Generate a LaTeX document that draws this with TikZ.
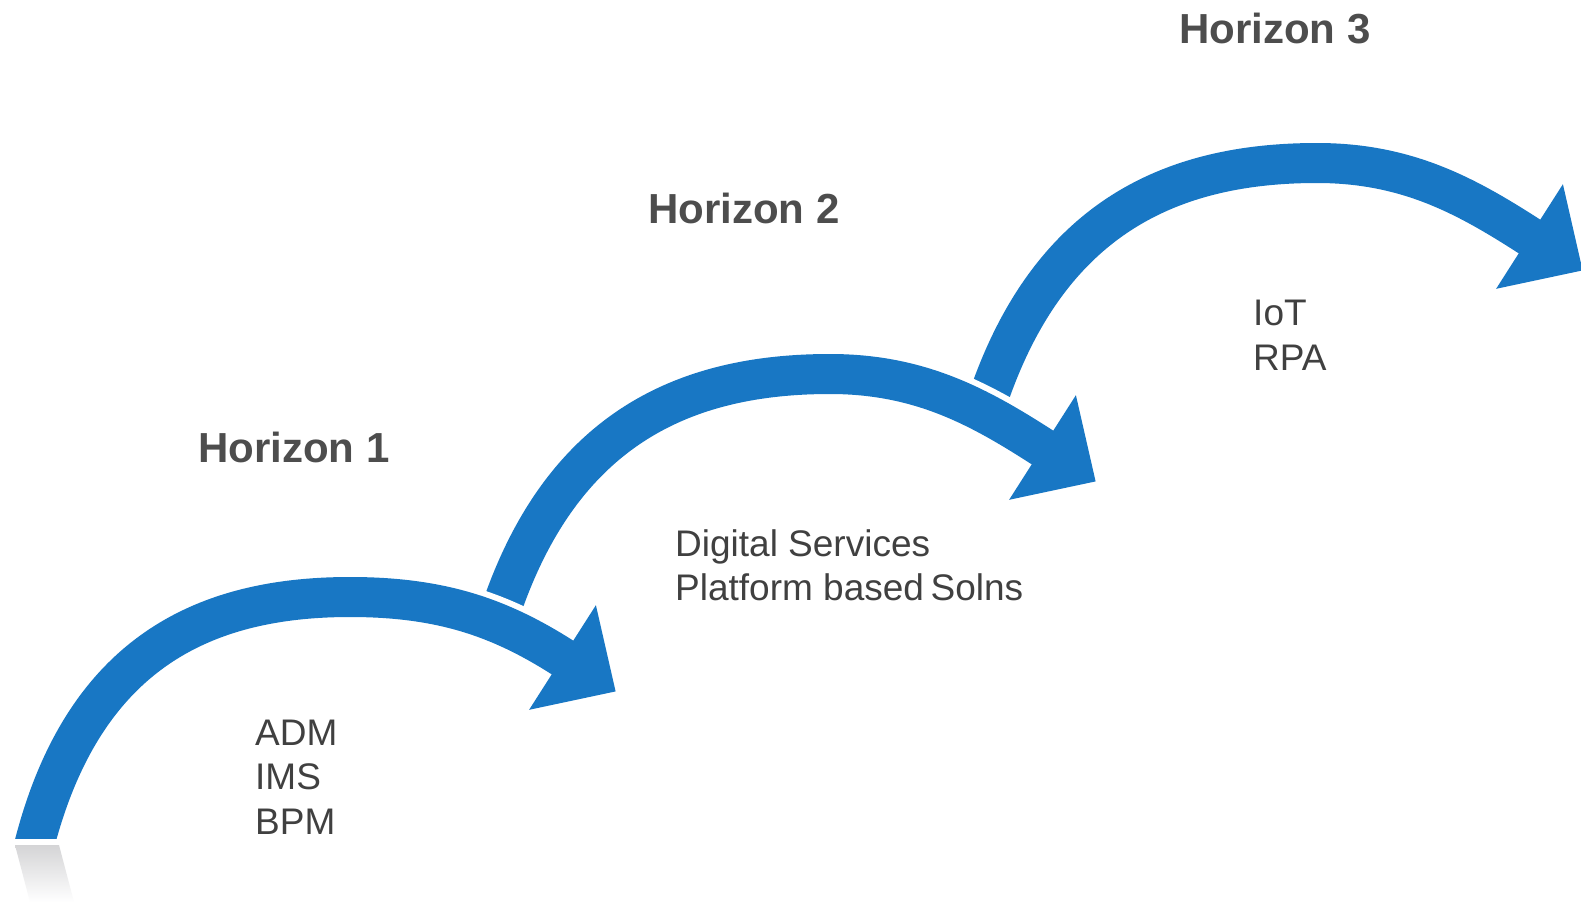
\documentclass[tikz,border=0pt]{standalone}
\usepackage{fontspec}
\setmainfont{Liberation Sans}
\definecolor{arrowblue}{RGB}{24,119,196}
\definecolor{textgray}{RGB}{64,64,64}
\definecolor{headgray}{RGB}{77,77,77}
\definecolor{reflgray}{RGB}{212,212,214}
\begin{document}
\begin{tikzpicture}[x=1pt,y=-1pt,
  band/.style={line width=40pt, draw=arrowblue, line cap=butt},
  halo/.style={line width=52pt, draw=white, line cap=butt},
  arrowhead/.style={fill=arrowblue},
  heading/.style={anchor=base west, inner sep=0pt, text=headgray,
    font=\fontsize{42}{50}\selectfont\bfseries},
  item/.style={anchor=base west, inner sep=0pt, text=textgray,
    font=\fontsize{37}{45}\selectfont},
  horizonarrow/.pic={
    % curved band with a white rim that cuts the next arrow's tail
    \draw[halo] (497,622) .. controls (557,432) and (680,374) .. (830,374)
      .. controls (920,374) and (979.5,407) .. (1042.5,447.5) -- ++(1.7,1.1);
    \draw[band] (497,622) .. controls (557,432) and (680,374) .. (830,374)
      .. controls (920,374) and (979.5,407) .. (1042.5,447.5) -- ++(1.7,1.1);
    \fill[arrowhead] (1075.9,395.2) -- (1095.6,481.4) -- (1009.1,499.8) -- cycle;
  }]
\useasboundingbox (0,0) rectangle (1581,902);
\fill[white] (0,0) rectangle (1581,902);

% third and second steps (same shape, shifted up the staircase)
\pic at (487,-211) {horizonarrow};
\pic at (0,0) {horizonarrow};

% first step, its tail cut flat on the ground line
\begin{scope}
  \clip (0,0) rectangle (1581,838);
  \draw[halo] (33,850) .. controls (81,656) and (200,597) .. (350,597)
    .. controls (440,597) and (499,617) .. (562.5,657.5) -- ++(1.7,1.1);
  \draw[band] (33,850) .. controls (81,656) and (200,597) .. (350,597)
    .. controls (440,597) and (499,617) .. (562.5,657.5) -- ++(1.7,1.1);
\end{scope}
\fill[arrowhead] (595.9,605.2) -- (615.6,691.4) -- (529.1,709.8) -- cycle;

% faint reflection of the first tail
\shade[top color=reflgray, bottom color=white]
  (15,845) -- (59,845) -- (74,902) -- (30,902) -- cycle;

% headings
\node[heading] (h1) at (198,462) {Horizon 1};
\node[heading] (h2) at (648,223) {Horizon 2};
\node[heading] (h3) at (1179,43) {Horizon 3};

% offerings under each step
\node[item] (adm) at (255,745) {ADM};
\node[item] (ims) at (255,789.5) {IMS};
\node[item] (bpm) at (255,834) {BPM};
\node[item] (dig) at (675,556) {Digital Services};
\node[item] (plat) at (675,600.5) {Platform based\hspace{0.18em}Solns};
\node[item] (iot) at (1253,325.5) {IoT};
\node[item] (rpa) at (1253,370) {RPA};
\end{tikzpicture}
\end{document}
